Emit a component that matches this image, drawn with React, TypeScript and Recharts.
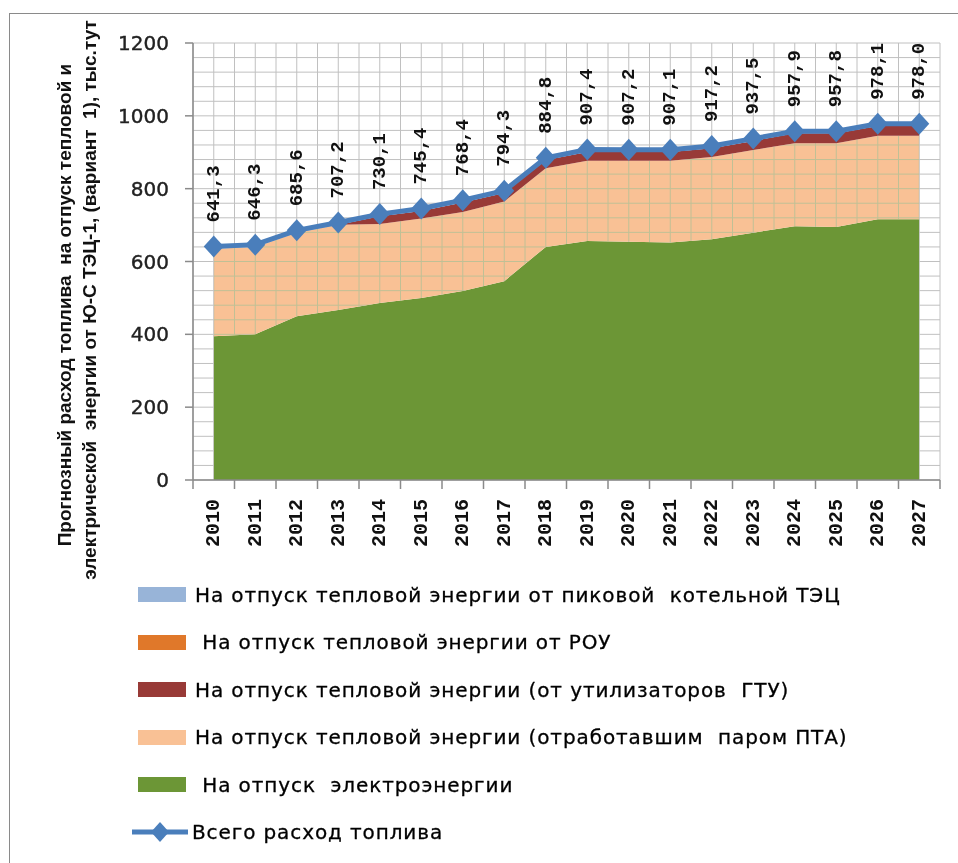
import { ComposedChart, Area, Line, XAxis, YAxis, Legend, LabelList, ReferenceLine } from 'recharts';

const years = ['2010', '2011', '2012', '2013', '2014', '2015', '2016', '2017', '2018', '2019', '2020', '2021', '2022', '2023', '2024', '2025', '2026', '2027'];

// stacked parts, тыс.тут
const electricity = [395, 400, 450, 467, 486, 500, 519, 546, 640, 656, 654, 652, 661, 679, 697, 695, 716, 716];
const ptaSteam = [240, 240, 229, 234, 217, 218, 217, 219, 216, 221, 223, 225, 226, 227, 228, 230, 229, 229];
const gtuHeat = [0, 0, 0, 0, 21, 21, 26, 23, 23, 24, 24, 24, 24, 25, 27, 27, 27, 27];
const rouHeat = [0, 0, 0, 0, 0, 0, 0, 0, 0, 0, 0, 0, 0, 0, 0, 0, 0, 0];
const peakBoiler = [6.3, 6.3, 6.6, 6.2, 6.1, 6.4, 6.4, 6.3, 5.8, 6.4, 6.2, 6.1, 6.2, 6.5, 5.9, 5.8, 6.1, 6.0];
const totalFuel = [641.3, 646.3, 685.6, 707.2, 730.1, 745.4, 768.4, 794.3, 884.8, 907.4, 907.2, 907.1, 917.2, 937.5, 957.9, 957.8, 978.1, 978.0];

const yTicks = Array.from({ length: 31 }, (_, i) => i * 40);
const xTicks = Array.from({ length: 37 }, (_, i) => i / 2);

const data = years.map((year, i) => ({
  year,
  slot: i + 0.5,
  electricity: electricity[i],
  ptaSteam: ptaSteam[i],
  gtuHeat: gtuHeat[i],
  rouHeat: rouHeat[i],
  peakBoiler: peakBoiler[i],
  total: totalFuel[i],
}));

// bottom to top
const areas = [
  { key: 'electricity', name: ' На отпуск  электроэнергии', color: '#6c9636' },
  { key: 'ptaSteam', name: 'На отпуск тепловой энергии (отработавшим  паром ПТА)', color: '#f9c195' },
  { key: 'gtuHeat', name: 'На отпуск тепловой энергии (от утилизаторов  ГТУ)', color: '#983a37' },
  { key: 'rouHeat', name: ' На отпуск тепловой энергии от РОУ', color: '#e0782a' },
  { key: 'peakBoiler', name: 'На отпуск тепловой энергии от пиковой  котельной ТЭЦ', color: '#98b4d8' },
];
const lineColor = '#4a7ebb';
const gridColor = '#c0c0c0';
const axisColor = '#8a8a8a';

const Diamond = (props: any) => {
  const { cx, cy } = props;
  if (cx == null || cy == null) return null;
  return <polygon points={`${cx},${cy - 11} ${cx + 10},${cy} ${cx},${cy + 11} ${cx - 10},${cy}`} fill={lineColor} />;
};

const ValueLabel = (props: any) => {
  const { x, y, value } = props;
  const ly = y - 24;
  return (
    <text
      x={x}
      y={ly}
      transform={`rotate(-90, ${x}, ${ly})`}
      textAnchor="start"
      dominantBaseline="central"
      fontFamily="'Liberation Mono', monospace"
      fontWeight="bold"
      fontSize={19}
      fill="#111"
    >
      {Number(value).toFixed(1).replace('.', ',')}
    </text>
  );
};

const XTick = (props: any) => {
  const { x, y, payload } = props;
  const v = payload.value;
  if (Number.isInteger(v)) {
    return <line x1={x} y1={y} x2={x} y2={y + 9} stroke={axisColor} strokeWidth={1.5} />;
  }
  const label = years[Math.floor(v)];
  return (
    <text
      x={x}
      y={y + 19}
      transform={`rotate(-90, ${x}, ${y + 19})`}
      textAnchor="end"
      dominantBaseline="central"
      fontFamily="'Liberation Mono', monospace"
      fontWeight="bold"
      fontSize={20}
      fill="#111"
    >
      {label}
    </text>
  );
};

const YTick = (props: any) => {
  const { x, y, payload } = props;
  if (payload.value % 200 !== 0) return null;
  return (
    <g>
      <line x1={x - 8} y1={y} x2={x} y2={y} stroke={axisColor} strokeWidth={1.5} />
      <text
        x={x - 24}
        y={y}
        textAnchor="end"
        dominantBaseline="central"
        fontFamily="'DejaVu Sans', sans-serif"
        fontSize={20}
        fill="#222"
        stroke="#222"
        strokeWidth={0.4}
      >
        {payload.value}
      </text>
    </g>
  );
};

const AxisTitle = () => (
  <g fontFamily="'Liberation Sans', Arial, sans-serif" fontWeight="bold" fontSize={19} fill="#111">
    <text x={64} y={305} transform="rotate(-90, 64, 305)" textAnchor="middle" dominantBaseline="central" xmlSpace="preserve">
      Прогнозный расход топлива  на отпуск тепловой и
    </text>
    <text x={89} y={300} transform="rotate(-90, 89, 300)" textAnchor="middle" dominantBaseline="central" xmlSpace="preserve">
      электрической  энергии от Ю-С ТЭЦ-1, (вариант  1), тыс.тут
    </text>
  </g>
);

const FuelLegend = () => {
  const rows = [...areas].reverse();
  const rowStyle = { display: 'flex', alignItems: 'center', height: 47.5 };
  const textStyle = {
    whiteSpace: 'pre' as const,
    fontFamily: "'DejaVu Sans', sans-serif",
    fontSize: 20,
    letterSpacing: 0.9,
    color: '#000',
    WebkitTextStroke: '0.3px #000',
    marginLeft: 9,
  };
  return (
    <div>
      {rows.map((a) => (
        <div key={a.key} style={rowStyle}>
          <span style={{ display: 'inline-block', width: 48, height: 15, background: a.color, marginLeft: 8 }} />
          <span style={textStyle}>{a.name}</span>
        </div>
      ))}
      <div style={rowStyle}>
        <svg width={60} height={24}>
          <line x1={2} y1={12} x2={58} y2={12} stroke={lineColor} strokeWidth={5} />
          <polygon points="30,2 39,12 30,22 21,12" fill={lineColor} />
        </svg>
        <span style={{ ...textStyle, marginLeft: 2 }}>Всего расход топлива</span>
      </div>
    </div>
  );
};

// grid lines end up above the areas; "darken" keeps them out of the dark fills
const css = 'body{margin:0} .fuel-grid line{mix-blend-mode:darken}';

export default function App() {
  return (
    <div style={{ position: 'relative', width: 958, height: 863, overflow: 'hidden', background: '#fff' }}>
      <style>{css}</style>
      <div style={{ position: 'absolute', left: 9, top: 13, width: 1000, height: 1000, border: '1.5px solid #8a8a8a' }} />
      <ComposedChart width={958} height={863} data={data} margin={{ top: 43, right: 18, left: 93, bottom: 323 }}>
        {yTicks.map((v) => (
          <ReferenceLine key={`gy${v}`} className="fuel-grid" y={v} stroke={gridColor} strokeWidth={1} />
        ))}
        {xTicks.map((v) => (
          <ReferenceLine key={`gx${v}`} className="fuel-grid" x={v} stroke={gridColor} strokeWidth={1} />
        ))}
        <XAxis
          type="number"
          dataKey="slot"
          domain={[0, 18]}
          ticks={xTicks}
          interval={0}
          height={60}
          tickSize={0}
          tickMargin={0}
          tickLine={false}
          tick={<XTick />}
          axisLine={{ stroke: axisColor, strokeWidth: 1.5 }}
        />
        <YAxis
          type="number"
          domain={[0, 1200]}
          ticks={yTicks}
          interval={0}
          width={100}
          tickSize={0}
          tickMargin={0}
          tickLine={false}
          tick={<YTick />}
          axisLine={{ stroke: axisColor, strokeWidth: 1.5 }}
          label={{ content: () => <AxisTitle /> }}
        />
        {areas.map((a) => (
          <Area
            key={a.key}
            type="linear"
            dataKey={a.key}
            name={a.name}
            stackId="fuel"
            fill={a.color}
            fillOpacity={1}
            stroke="none"
            dot={false}
            activeDot={false}
            isAnimationActive={false}
          />
        ))}
        <Line
          type="linear"
          dataKey="total"
          name="Всего расход топлива"
          stroke={lineColor}
          strokeWidth={5}
          dot={<Diamond />}
          activeDot={false}
          isAnimationActive={false}
        >
          <LabelList dataKey="total" content={<ValueLabel />} />
        </Line>
        <Legend
          layout="vertical"
          align="center"
          verticalAlign="middle"
          content={() => <FuelLegend />}
          wrapperStyle={{ left: 130, top: 571, width: 820, height: 290 }}
        />
      </ComposedChart>
    </div>
  );
}
